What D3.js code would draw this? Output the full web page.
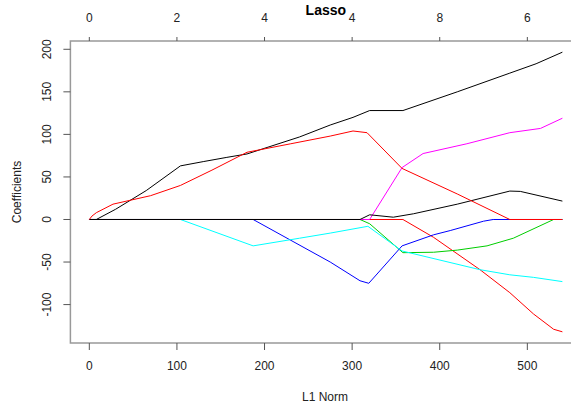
<!DOCTYPE html>
<html>
<head>
<meta charset="utf-8">
<script src="https://cdn.jsdelivr.net/npm/d3@7"></script>
<style>
  body{margin:0;background:#fff;}
  svg text{font-family:"Liberation Sans",Arial,sans-serif;}
</style>
</head>
<body>
<div id="chart"></div>
<script>
// coefficient paths, [L1 norm, coefficient], drawn in variable order
var v1 = [[0,0],[8,0],[30,12],[65,34],[104,63],[130,68],[157,73],[180,77],[240,97],[275,111],[301,120],[320,128],[358,128],[420,150],[480,172],[510,183],[540,196.6]];
var v2 = [[0,0],[358,0],[393,-21],[446,-59],[480,-86],[507,-111],[530,-129],[540,-132]];
var v3 = [[0,0],[309,0],[320,-5],[358,-39],[393,-38.5],[420,-36],[454,-31],[484,-22],[530,0],[540,0]];
var v4 = [[0,0],[187,0],[275,-50],[309,-72],[319,-75],[357,-31],[393,-18],[412,-13],[450,-2],[461,0],[540,0]];
var v5 = [[0,0],[104,0],[187,-31],[240,-22],[275,-16],[318,-8],[357,-37],[446,-59],[480,-65],[507,-68],[540,-73]];
var v6 = [[0,0],[320,0],[357,61],[381,77.5],[431,89],[480,102],[515,107],[540,119]];
var v7 = [[0,0],[309,0],[320,5.5],[347,2.7],[370,6.7],[420,18],[480,33.4],[492,33],[540,21.6]];
var v8 = [[0,0],[3,4],[8,8],[27,18],[70,28],[104,40],[140,58],[180,79],[230,89],[275,98],[301,104],[317,102],[357,60],[420,30],[480,0],[540,0]];

var series = [v1,v2,v3,v4,v5,v6,v7,v8];
var colores = ["#000000","#FF0000","#00CD00","#0000FF","#00FFFF","#FF00FF"];

var xTicks = [0,100,200,300,400,500];
var yTicks = [-100,-50,0,50,100,150,200];
var dfLabels = ["0","2","4","4","8","6"];   // top axis: number of nonzero coefs

var ancho = 571, alto = 407;
var margin = {top:41, left:70.4, right:-10.3, bottom:64};

var svg = d3.select("#chart").append("svg")
  .attr("width", ancho).attr("height", alto);

// R style 4% padding on both scales
var xr = [0,540], yr = [-132,196.6];
var px = (xr[1]-xr[0])*0.04, py = (yr[1]-yr[0])*0.04;
var x = d3.scaleLinear().domain([xr[0]-px, xr[1]+px]).range([margin.left, ancho-margin.right]);
var y = d3.scaleLinear().domain([yr[0]-py, yr[1]+py]).range([alto-margin.bottom, margin.top]);

var linea = d3.line().x(d=>x(d[0])).y(d=>y(d[1]));

var g = svg.append("g");
series.forEach(function(s,i){
  g.append("path")
    .attr("d", linea(s))
    .attr("fill","none")
    .attr("stroke", colores[i % colores.length])
    .attr("stroke-width",1);
});

// box
svg.append("rect")
  .attr("x", x.range()[0]).attr("y", y.range()[1])
  .attr("width", x.range()[1]-x.range()[0])
  .attr("height", y.range()[0]-y.range()[1])
  .attr("fill","none").attr("stroke","#999").attr("stroke-width",1.5);

var colTxt = "#222";

// eje inferior
var ejeAbajo = svg.append("g");
xTicks.forEach(function(t){
  ejeAbajo.append("line").attr("x1",x(t)).attr("x2",x(t))
    .attr("y1",y.range()[0]).attr("y2",y.range()[0]+7)
    .attr("stroke","#555");
  ejeAbajo.append("text").attr("x",x(t)).attr("y",370)
    .attr("text-anchor","middle").style("font-size","12px").attr("fill",colTxt).text(t);
});

// eje superior
var ejeArriba = svg.append("g");
xTicks.forEach(function(t,i){
  ejeArriba.append("line").attr("x1",x(t)).attr("x2",x(t))
    .attr("y1",y.range()[1]).attr("y2",y.range()[1]-4)
    .attr("stroke","#555");
  ejeArriba.append("text").attr("x",x(t)).attr("y",22)
    .attr("text-anchor","middle").style("font-size","12px").attr("fill",colTxt).text(dfLabels[i]);
});

// eje izquierdo
var ejeIzq = svg.append("g");
yTicks.forEach(function(t){
  ejeIzq.append("line").attr("x1",x.range()[0]-7).attr("x2",x.range()[0])
    .attr("y1",y(t)).attr("y2",y(t)).attr("stroke","#555");
  ejeIzq.append("text")
    .attr("transform",`translate(51,${y(t)}) rotate(-90)`)
    .attr("text-anchor","middle").style("font-size","12px").attr("fill",colTxt).text(t);
});

// titulos
svg.append("text").attr("x",(x.range()[0]+x.range()[1])/2).attr("y",15)
  .attr("text-anchor","middle").style("font-size","14px").style("font-weight","bold")
  .attr("fill","#000").text("Lasso");
svg.append("text").attr("x",325).attr("y",401)
  .attr("text-anchor","middle").style("font-size","12px").attr("fill",colTxt).text("L1 Norm");
svg.append("text")
  .attr("transform",`translate(21,${(y.range()[0]+y.range()[1])/2}) rotate(-90)`)
  .attr("text-anchor","middle").style("font-size","12px").attr("fill",colTxt).text("Coefficients");
</script>
</body>
</html>
